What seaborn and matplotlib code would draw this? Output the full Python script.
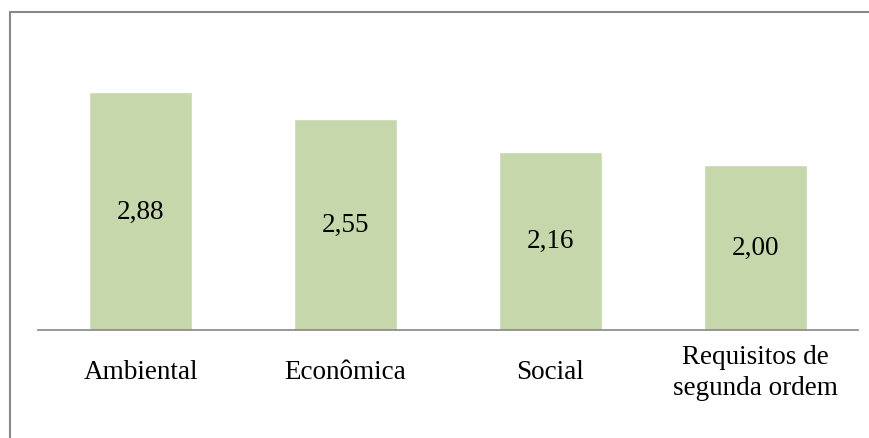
import matplotlib
matplotlib.use("Agg")
import matplotlib.pyplot as plt
from matplotlib.lines import Line2D
import seaborn as sns
import pandas as pd

categories = ["Ambiental", "Econômica", "Social", "Requisitos de\nsegunda ordem"]
values = [2.88, 2.55, 2.16, 2.00]
value_labels = ["2,88", "2,55", "2,16", "2,00"]

sns.set_theme(style="white")
plt.rcParams["font.family"] = ["Liberation Serif", "DejaVu Serif"]

W, H = 870, 439
fig = plt.figure(figsize=(W / 100, H / 100), dpi=100)
ax = fig.add_axes([38 / W, 1 - 331 / H, (858 - 38) / W, (331 - 42) / H])

df = pd.DataFrame({"cat": categories, "val": values})
sns.barplot(data=df, x="cat", y="val", color="#c6d7ac", saturation=1, width=0.5, ax=ax)

ax.set_ylim(0, 3.5)
ax.set_xlim(-0.5, 3.5)
ax.set_xlabel("")
ax.set_ylabel("")
ax.set_yticks([])
for s in ["top", "right", "left"]:
    ax.spines[s].set_visible(False)
ax.spines["bottom"].set_color("#868686")
ax.spines["bottom"].set_linewidth(1.2)
ax.tick_params(axis="x", length=0, pad=30)
for lab in ax.get_xticklabels():
    lab.set_fontsize(19.5)
    lab.set_va("center")
    lab.set_linespacing(1.3)
    lab.set_color("black")

for i, (v, t) in enumerate(zip(values, value_labels)):
    ax.text(i, v / 2, t, ha="center", va="center", fontsize=19.5, color="black")

# outer border (top and left edges visible)
fig.add_artist(Line2D([10 / W, 10 / W], [0, 1 - 13 / H], transform=fig.transFigure,
                      color="#888888", linewidth=1.5))
fig.add_artist(Line2D([10 / W, 1], [1 - 13 / H, 1 - 13 / H], transform=fig.transFigure,
                      color="#888888", linewidth=1.5))

fig.savefig("out.png", dpi=100)
